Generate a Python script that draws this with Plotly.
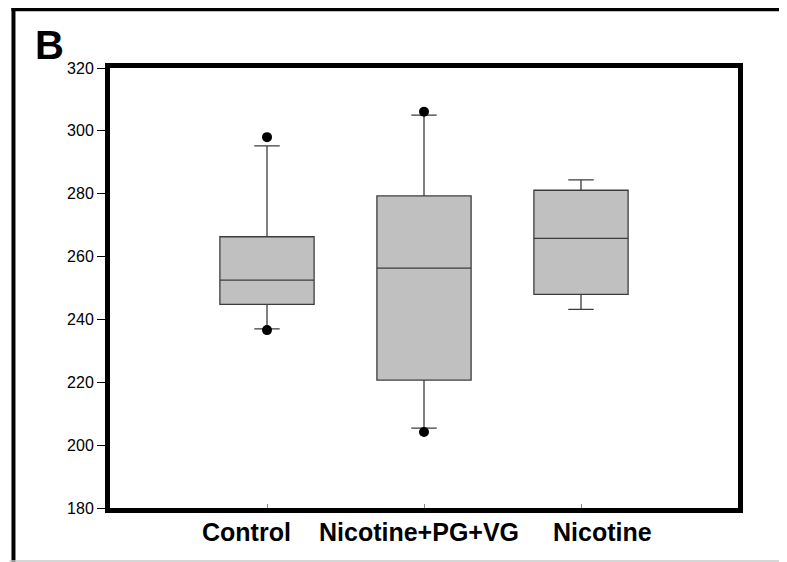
import plotly.graph_objects as go

# ---- data ----
groups = ["Control", "Nicotine+PG+VG", "Nicotine"]
positions = [1, 2, 3]
q1 = [244.8, 220.7, 248.0]
median = [252.5, 256.3, 265.8]
q3 = [266.3, 279.3, 281.1]
lower_whisker = [237.0, 205.4, 243.2]
upper_whisker = [295.2, 305.0, 284.4]
outlier_x = [1, 1, 2, 2]
outlier_y = [298.0, 236.6, 306.1, 204.2]
y_ticks = [180, 200, 220, 240, 260, 280, 300, 320]

# label horizontal offsets (styling of category labels)
label_offsets = [-0.13, -0.03, 0.14]

fig = go.Figure()

fig.add_trace(go.Box(
    x=positions, q1=q1, median=median, q3=q3,
    lowerfence=lower_whisker, upperfence=upper_whisker,
    width=0.6, whiskerwidth=0.27,
    fillcolor="#c0c0c0",
    line=dict(color="#3c3c3c", width=1.3),
    boxpoints=False, showlegend=False, hoverinfo="skip",
))

fig.add_trace(go.Scatter(
    x=outlier_x, y=outlier_y, mode="markers",
    marker=dict(color="black", size=10),
    showlegend=False, hoverinfo="skip",
))

font_family = "Liberation Sans, Arial, sans-serif"

for g, p, off in zip(groups, positions, label_offsets):
    fig.add_annotation(
        x=p + off, y=0, xref="x", yref="paper",
        text=f"<b>{g}</b>", showarrow=False,
        xanchor="center", yanchor="middle", yshift=-24,
        font=dict(family=font_family, size=25, color="black"),
    )

fig.add_annotation(
    x=-0.122, y=1.052, xref="paper", yref="paper",
    text="<b>B</b>", showarrow=False, xanchor="left", yanchor="middle",
    font=dict(family=font_family, size=40, color="black"),
)

# outer frame (left, top, bottom light line)
fig.add_shape(type="line", xref="paper", yref="paper",
              x0=-0.1537, x1=-0.1537, y0=1.14, y1=-0.13,
              line=dict(color="black", width=4))
fig.add_shape(type="line", xref="paper", yref="paper",
              x0=-0.1569, x1=1.08, y0=1.1335, y1=1.1335,
              line=dict(color="black", width=4))
fig.add_shape(type="line", xref="paper", yref="paper",
              x0=-0.16, x1=1.08, y0=-0.1205, y1=-0.1205,
              line=dict(color="#c8c8c8", width=1.5))

# page body has an 8px default margin, so the figure is sized to fit the window
fig.update_layout(
    width=779, height=554,
    margin=dict(l=102, r=49, t=60, b=54),
    paper_bgcolor="white", plot_bgcolor="white",
    font=dict(family=font_family, color="black"),
    xaxis=dict(
        range=[0, 4], tickvals=positions, ticktext=["", "", ""],
        ticks="inside", ticklen=4, tickcolor="#888", tickwidth=1,
        showgrid=False, zeroline=False,
        showline=True, linecolor="black", linewidth=5, mirror=True,
    ),
    yaxis=dict(
        range=[180, 320], tickvals=y_ticks,
        ticks="outside", ticklen=8, tickcolor="black", tickwidth=1,
        tickfont=dict(size=16, family=font_family, color="black"),
        showgrid=False, zeroline=False,
        showline=True, linecolor="black", linewidth=5, mirror=True,
    ),
)

fig.write_html("out.html")
